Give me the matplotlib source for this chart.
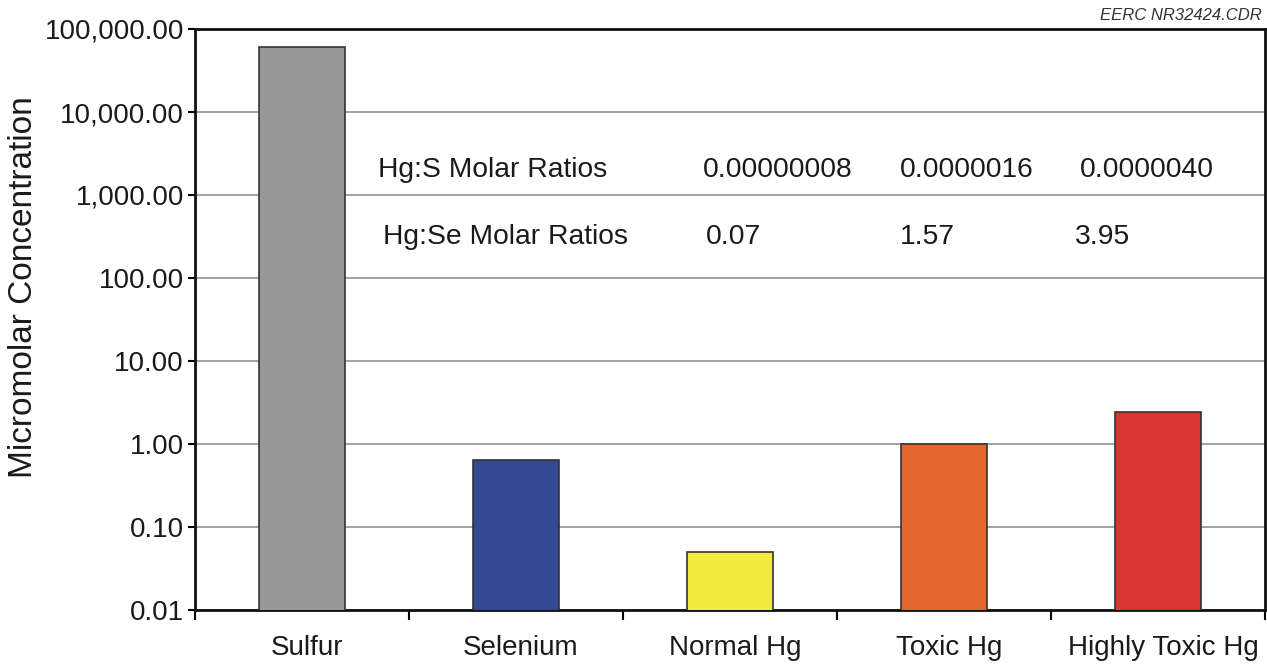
import matplotlib
matplotlib.use("Agg")
import matplotlib.pyplot as plt
from matplotlib.ticker import FixedLocator, FuncFormatter, NullFormatter
from matplotlib.transforms import ScaledTranslation

plt.rcParams["font.family"] = ["Liberation Sans", "DejaVu Sans"]

categories = ["Sulfur", "Selenium", "Normal Hg", "Toxic Hg", "Highly Toxic Hg"]
values = [60000, 0.64, 0.05, 1.0, 2.45]
colors = ["#979797", "#344992", "#f0eb3c", "#e3672f", "#d93632"]

yticks = [0.01, 0.1, 1, 10, 100, 1000, 10000, 100000]

hgs_label = "Hg:S Molar Ratios"
hgs_ratios = ["0.00000008", "0.0000016", "0.0000040"]
hgse_label = "Hg:Se Molar Ratios"
hgse_ratios = ["0.07", "1.57", "3.95"]

fig = plt.figure(figsize=(12.67, 6.64), dpi=100)
ax = fig.add_axes([195 / 1267, 1 - 610 / 664, 1070 / 1267, 581 / 664])

x = range(len(categories))
ax.bar(x, values, width=0.405, color=colors, edgecolor="#333333", linewidth=1.2, zorder=3)

ax.set_yscale("log")
ax.set_ylim(0.01, 100000)
ax.set_xlim(-0.5, len(categories) - 0.5)

ax.yaxis.set_major_locator(FixedLocator(yticks))
ax.yaxis.set_minor_locator(FixedLocator([]))
ax.yaxis.set_major_formatter(FuncFormatter(lambda v, p: f"{v:,.2f}"))
ax.tick_params(axis="y", direction="out", length=5, width=1.5, labelsize=20, pad=3,
               labelcolor="#1a1a1a")
ax.grid(axis="y", color="#9a9a9a", linewidth=1.3, zorder=0)

ax.set_xticks(list(x))
ax.set_xticklabels(categories)
ax.set_xticks([i + 0.5 for i in range(-1, len(categories))], minor=True)
ax.xaxis.set_minor_formatter(NullFormatter())
ax.tick_params(axis="x", which="major", length=0, labelsize=20, pad=18, labelcolor="#1a1a1a")
ax.tick_params(axis="x", which="minor", direction="out", length=7, width=1.5)
# labels sit a little right of the bar centres in the original
shift = ScaledTranslation(5 / 100, 0, fig.dpi_scale_trans)
for lab in ax.get_xticklabels():
    lab.set_transform(lab.get_transform() + shift)

for s in ax.spines.values():
    s.set_linewidth(2)
    s.set_color("#111111")

fig.text(24 / 1267, 1 - 287 / 664, "Micromolar Concentration", fontsize=24, rotation=90,
         ha="center", va="center", color="#1a1a1a")

# ratio annotations
row1_y, row2_y = 2000, 312
txt = dict(fontsize=20.3, va="center", ha="left", color="#1a1a1a")
ax.text(0.355, row1_y, hgs_label, **txt)
for xp, t in zip([1.874, 2.794, 3.636], hgs_ratios):
    ax.text(xp, row1_y, t, **txt)
ax.text(0.378, row2_y, hgse_label, **txt)
for xp, t in zip([1.888, 2.794, 3.612], hgse_ratios):
    ax.text(xp, row2_y, t, **txt)

fig.text(1262 / 1267, 1 - 16 / 664, "EERC NR32424.CDR", fontsize=12, style="italic",
         ha="right", va="center", color="#333333")

fig.savefig("out.png", dpi=100)
